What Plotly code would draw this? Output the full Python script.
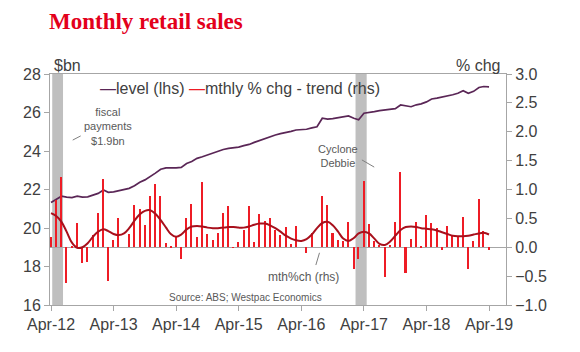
import pandas as pd
import plotly.graph_objects as go

# ---- data ----
months = pd.date_range("2012-04-01", "2019-04-01", freq="MS")

level_bn = [21.32, 21.50, 21.65, 21.60, 21.58, 21.65, 21.60, 21.62, 21.70, 21.80,
            21.97, 21.85, 21.88, 21.93, 22.00, 22.06, 22.20, 22.38, 22.50, 22.66,
            22.85, 23.05, 23.12, 23.13, 23.12, 23.15, 23.35, 23.45, 23.62, 23.70,
            23.80, 23.88, 23.98, 24.08, 24.14, 24.16, 24.20, 24.28, 24.34, 24.45,
            24.55, 24.64, 24.74, 24.83, 24.90, 24.95, 25.02, 25.09, 25.12, 25.13,
            25.20, 25.26, 25.70, 25.66, 25.68, 25.72, 25.78, 25.82, 25.70, 25.62,
            25.96, 26.02, 26.05, 26.10, 26.13, 26.15, 26.20, 26.39, 26.33, 26.30,
            26.40, 26.45, 26.55, 26.70, 26.75, 26.80, 26.84, 26.92, 27.00, 27.13,
            27.00, 27.10, 27.30, 27.35, 27.33]

mthly_pct = [0.17, 0.82, 1.22, -0.62, 0.02, 0.42, -0.27, -0.25, 0.22, 0.59,
             1.18, -0.59, 0.13, 0.51, 0.00, 0.23, 0.74, 0.66, 0.38, 0.89,
             1.10, 0.88, 0.08, 0.03, 0.19, -0.20, 0.51, 0.75, 0.18, 1.13,
             0.23, 0.12, 0.25, 0.59, 0.72, -0.01, 0.09, 0.30, 0.72, 0.09,
             0.58, 0.45, 0.50, 0.30, 0.21, 0.35, 0.05, 0.37, 0.00, -0.10,
             0.24, 0.00, 0.88, 0.74, 0.24, 0.13, 0.10, 0.43, -0.37, -0.20,
             1.14, 0.40, 0.10, 0.04, -0.51, 0.04, 0.44, 1.31, -0.45, 0.14,
             0.44, 0.02, 0.56, 0.42, 0.34, -0.04, 0.37, 0.19, 0.18, 0.52,
             -0.38, 0.10, 0.84, 0.28, -0.04]

trend_pct = [0.59, 0.54, 0.44, 0.27, 0.08, -0.01, 0.00, 0.07, 0.18, 0.27,
             0.31, 0.28, 0.23, 0.21, 0.24, 0.33, 0.46, 0.57, 0.63, 0.64,
             0.58, 0.47, 0.34, 0.23, 0.18, 0.22, 0.31, 0.36, 0.37, 0.36,
             0.34, 0.33, 0.33, 0.34, 0.35, 0.35, 0.34, 0.34, 0.36, 0.39,
             0.41, 0.41, 0.38, 0.33, 0.27, 0.20, 0.15, 0.12, 0.11, 0.14,
             0.22, 0.33, 0.42, 0.44, 0.38, 0.27, 0.15, 0.11, 0.16, 0.24,
             0.27, 0.24, 0.15, 0.06, 0.04, 0.10, 0.20, 0.30, 0.35, 0.36,
             0.35, 0.33, 0.32, 0.31, 0.29, 0.26, 0.23, 0.20, 0.19, 0.19,
             0.20, 0.22, 0.24, 0.25, 0.22]

tick_dates = ["2012-04-01", "2013-04-01", "2014-04-01", "2015-04-01",
              "2016-04-01", "2017-04-01", "2018-04-01", "2019-04-01"]
tick_labels = ["Apr-12", "Apr-13", "Apr-14", "Apr-15", "Apr-16", "Apr-17", "Apr-18", "Apr-19"]

bands = [("2012-04-08", "2012-06-10"), ("2017-02-11", "2017-04-17")]

# ---- styles ----
PURPLE = "#5a2656"
RED = "#ee1c25"
DARKRED = "#a8101c"
AXIS = "#a6a6a6"
TXT = "#404040"
FONT = "Liberation Sans, Arial, sans-serif"

fig = go.Figure()
fig.add_trace(go.Bar(x=months, y=mthly_pct, yaxis="y2", marker_color=RED,
                     marker_line_width=0, width=9 * 86400000, name="mth%ch (rhs)"))
fig.add_trace(go.Scatter(x=months, y=trend_pct, yaxis="y2", mode="lines",
                         line=dict(color=DARKRED, width=2, shape="spline"),
                         name="mthly % chg - trend (rhs)"))
fig.add_trace(go.Scatter(x=months, y=level_bn, yaxis="y", mode="lines",
                         line=dict(color=PURPLE, width=1.7), name="level (lhs)"))

for a, b in bands:
    fig.add_shape(type="rect", xref="x", yref="paper", x0=a, x1=b, y0=0, y1=1,
                  fillcolor="#bfbfbf", line_width=0, layer="below")

# leader lines
for (x0, y0, x1, y1) in [(0.0498, 0.714, 0.0673, 0.732),
                         (0.684, 0.628, 0.711, 0.597),
                         (0.583, 0.173, 0.591, 0.226)]:
    fig.add_shape(type="line", xref="paper", yref="paper", x0=x0, y0=y0, x1=x1, y1=y1,
                  line=dict(color="#7f7f7f", width=1))

ann = dict(xref="paper", yref="paper", showarrow=False, font=dict(family=FONT, color=TXT))
annotations = [
    dict(ann, x=0.105, y=0.939, xanchor="left", yanchor="middle",
         text=f"<span style='color:{PURPLE}'>—</span>level (lhs) "
              f"<span style='color:{RED}'>—</span>mthly % chg - trend (rhs)",
         font=dict(family=FONT, size=16, color=TXT)),
    dict(ann, x=0.004, y=1.035, xanchor="left", yanchor="middle", text="$bn",
         font=dict(family=FONT, size=16, color=TXT)),
    dict(ann, x=0.991, y=1.035, xanchor="right", yanchor="middle", text="% chg",
         font=dict(family=FONT, size=16, color=TXT)),
    dict(ann, x=0.127, y=0.773, xanchor="center", yanchor="middle",
         text="fiscal<br>payments<br>$1.9bn", font=dict(family=FONT, size=11, color="#595959")),
    dict(ann, x=0.632, y=0.647, xanchor="center", yanchor="middle",
         text="Cyclone<br>Debbie", font=dict(family=FONT, size=11, color="#595959")),
    dict(ann, x=0.557, y=0.121, xanchor="center", yanchor="middle",
         text="mth%ch (rhs)", font=dict(family=FONT, size=12, color="#595959")),
    dict(ann, x=0.429, y=0.032, xanchor="center", yanchor="middle",
         text="Source: ABS; Westpac Economics", font=dict(family=FONT, size=10, color="#595959")),
]

fig.update_layout(
    width=580, height=352,
    margin=dict(l=50, r=74, t=74, b=47),
    paper_bgcolor="white", plot_bgcolor="white",
    showlegend=False,
    bargap=0,
    title=dict(text="<b>Monthly retail sales</b>", x=49 / 580, xanchor="left",
               y=1 - 21 / 352, yanchor="middle",
               font=dict(family="Liberation Serif, Times New Roman, serif", size=23, color="#e3001b")),
    annotations=annotations,
    xaxis=dict(type="date", range=["2012-03-26", "2019-07-09"],
               tickvals=tick_dates, ticktext=tick_labels,
               showline=True, linecolor=AXIS, linewidth=1, mirror=True,
               ticks="outside", ticklen=5, tickcolor=AXIS, showgrid=False, zeroline=False,
               tickfont=dict(family=FONT, size=16, color=TXT)),
    yaxis=dict(range=[16, 28], dtick=2, tick0=16, showline=True, linecolor=AXIS,
               ticks="outside", ticklen=5, tickcolor=AXIS, showgrid=False, zeroline=False,
               tickfont=dict(family=FONT, size=16, color=TXT)),
    yaxis2=dict(range=[-1, 3], dtick=0.5, tick0=-1, tickformat=".1f", overlaying="y",
                side="right", showline=True, linecolor=AXIS, ticks="outside", ticklen=5,
                tickcolor=AXIS, showgrid=False, zeroline=True, zerolinecolor=AXIS,
                zerolinewidth=1, tickfont=dict(family=FONT, size=16, color=TXT)),
)

fig.write_html("out.html")
